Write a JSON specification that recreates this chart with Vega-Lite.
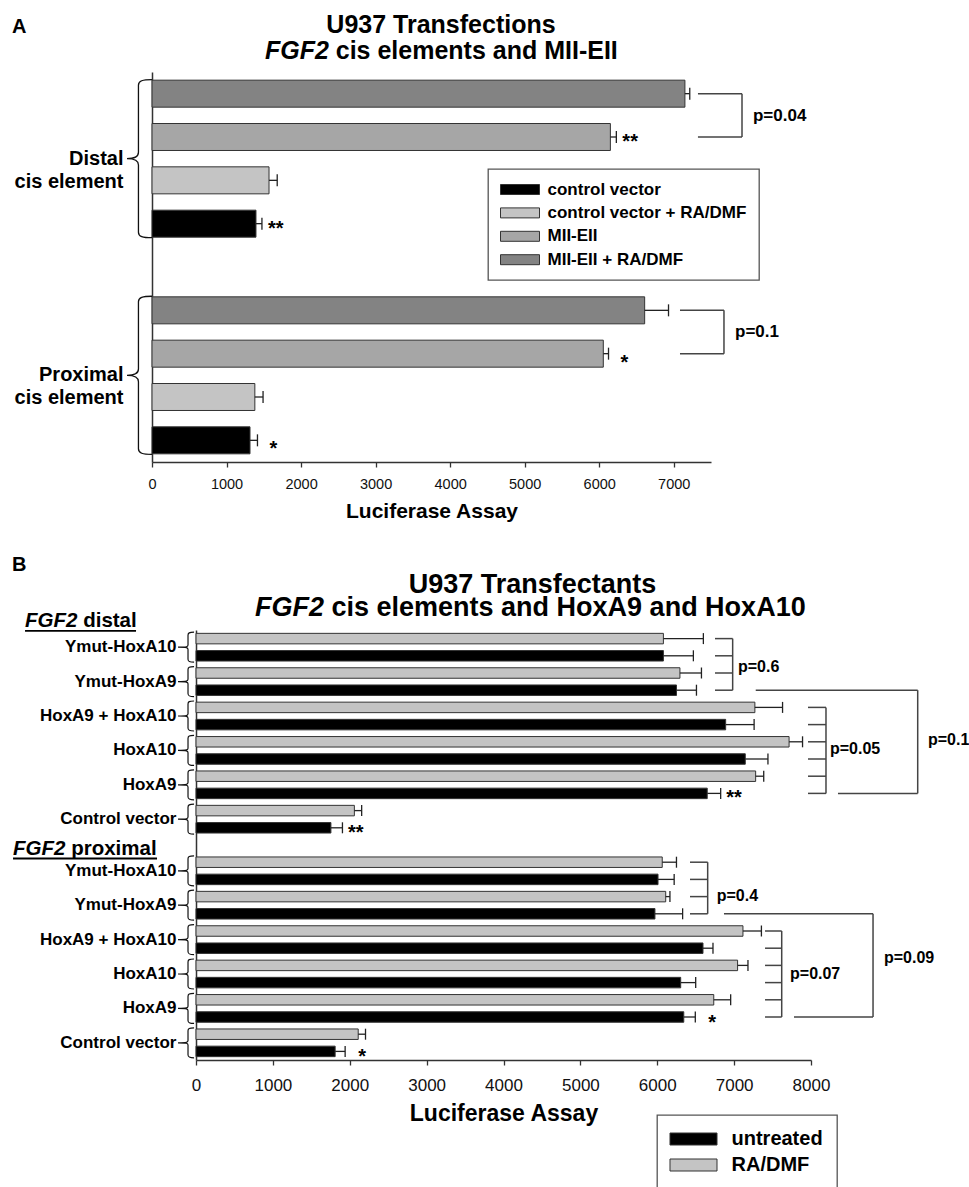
{
  "$schema": "https://vega.github.io/schema/vega-lite/v6.json",
  "width": 969,
  "height": 1187,
  "autosize": {"type": "none"},
  "padding": 0,
  "background": "#ffffff",
  "config": {
    "view": {"stroke": null},
    "font": "Liberation Sans",
    "text": {"font": "Liberation Sans", "color": "#000000"},
    "axis": {"grid": false, "domainColor": "#333333", "tickColor": "#333333", "labelColor": "#111111", "titleColor": "#000000", "labelFont": "Liberation Sans", "titleFont": "Liberation Sans", "domainWidth": 1.5, "tickWidth": 1.3},
    "legend": {"strokeColor": "#555555", "strokeWidth": 1.3, "padding": 12, "fillColor": "#ffffff", "labelFont": "Liberation Sans", "labelFontWeight": "bold", "labelColor": "#000000", "labelLimit": 400, "symbolStrokeColor": "#333333", "symbolStrokeWidth": 1}
  },
  "datasets": {
    "panelA": [
      {"element": "Distal", "construct": "MII-EII + RA/DMF", "mean": 7150, "hi": 7215, "sig": ""},
      {"element": "Distal", "construct": "MII-EII", "mean": 6150, "hi": 6230, "sig": "**"},
      {"element": "Distal", "construct": "control vector + RA/DMF", "mean": 1570, "hi": 1680, "sig": ""},
      {"element": "Distal", "construct": "control vector", "mean": 1395, "hi": 1475, "sig": "**"},
      {"element": "Proximal", "construct": "MII-EII + RA/DMF", "mean": 6610, "hi": 6930, "sig": ""},
      {"element": "Proximal", "construct": "MII-EII", "mean": 6055, "hi": 6125, "sig": "*"},
      {"element": "Proximal", "construct": "control vector + RA/DMF", "mean": 1380, "hi": 1490, "sig": ""},
      {"element": "Proximal", "construct": "control vector", "mean": 1315, "hi": 1415, "sig": "*"}
    ],
    "panelB": [
      {"section": "distal", "construct": "Ymut-HoxA10", "treatment": "RA/DMF", "mean": 6080, "hi": 6600, "sig": ""},
      {"section": "distal", "construct": "Ymut-HoxA10", "treatment": "untreated", "mean": 6080, "hi": 6470, "sig": ""},
      {"section": "distal", "construct": "Ymut-HoxA9", "treatment": "RA/DMF", "mean": 6295, "hi": 6575, "sig": ""},
      {"section": "distal", "construct": "Ymut-HoxA9", "treatment": "untreated", "mean": 6250, "hi": 6510, "sig": ""},
      {"section": "distal", "construct": "HoxA9 + HoxA10", "treatment": "RA/DMF", "mean": 7270, "hi": 7630, "sig": ""},
      {"section": "distal", "construct": "HoxA9 + HoxA10", "treatment": "untreated", "mean": 6890, "hi": 7260, "sig": ""},
      {"section": "distal", "construct": "HoxA10", "treatment": "RA/DMF", "mean": 7715, "hi": 7890, "sig": ""},
      {"section": "distal", "construct": "HoxA10", "treatment": "untreated", "mean": 7145, "hi": 7440, "sig": ""},
      {"section": "distal", "construct": "HoxA9", "treatment": "RA/DMF", "mean": 7280, "hi": 7385, "sig": ""},
      {"section": "distal", "construct": "HoxA9", "treatment": "untreated", "mean": 6650, "hi": 6825, "sig": "**"},
      {"section": "distal", "construct": "Control vector", "treatment": "RA/DMF", "mean": 2060, "hi": 2155, "sig": ""},
      {"section": "distal", "construct": "Control vector", "treatment": "untreated", "mean": 1755, "hi": 1905, "sig": "**"},
      {"section": "proximal", "construct": "Ymut-HoxA10", "treatment": "RA/DMF", "mean": 6065, "hi": 6250, "sig": ""},
      {"section": "proximal", "construct": "Ymut-HoxA10", "treatment": "untreated", "mean": 6010, "hi": 6220, "sig": ""},
      {"section": "proximal", "construct": "Ymut-HoxA9", "treatment": "RA/DMF", "mean": 6110, "hi": 6165, "sig": ""},
      {"section": "proximal", "construct": "Ymut-HoxA9", "treatment": "untreated", "mean": 5970, "hi": 6330, "sig": ""},
      {"section": "proximal", "construct": "HoxA9 + HoxA10", "treatment": "RA/DMF", "mean": 7115, "hi": 7355, "sig": ""},
      {"section": "proximal", "construct": "HoxA9 + HoxA10", "treatment": "untreated", "mean": 6595, "hi": 6725, "sig": ""},
      {"section": "proximal", "construct": "HoxA10", "treatment": "RA/DMF", "mean": 7045, "hi": 7180, "sig": ""},
      {"section": "proximal", "construct": "HoxA10", "treatment": "untreated", "mean": 6305, "hi": 6500, "sig": ""},
      {"section": "proximal", "construct": "HoxA9", "treatment": "RA/DMF", "mean": 6735, "hi": 6955, "sig": ""},
      {"section": "proximal", "construct": "HoxA9", "treatment": "untreated", "mean": 6345, "hi": 6495, "sig": "*"},
      {"section": "proximal", "construct": "Control vector", "treatment": "RA/DMF", "mean": 2110, "hi": 2205, "sig": ""},
      {"section": "proximal", "construct": "Control vector", "treatment": "untreated", "mean": 1810, "hi": 1940, "sig": "*"}
    ]
  },
  "resolve": {"scale": {"x": "independent", "y": "independent", "fill": "independent"}},
  "layer": [
    {
      "data": {"name": "panelA"},
      "transform": [{"calculate": "datum.element + '|' + datum.construct", "as": "bar"}],
      "layer": [
        {
          "mark": {"type": "bar", "stroke": "#333333", "strokeWidth": 1, "opacity": 1},
          "encoding": {
            "x": {
              "field": "mean", "type": "quantitative",
              "scale": {"domain": [0, 7500], "range": [152, 711], "nice": false, "zero": false},
              "axis": {"orient": "bottom", "offset": -725, "values": [0, 1000, 2000, 3000, 4000, 5000, 6000, 7000], "format": "d", "title": "Luciferase Assay", "titleFontSize": 21, "titleFontWeight": "bold", "titlePadding": 10, "labelFontSize": 14.5, "labelPadding": 10, "labelFlush": false, "labelOverlap": false, "tickSize": 5}
            },
            "y": {
              "field": "bar", "type": "nominal",
              "scale": {"type": "band", "domain": ["Distal|MII-EII + RA/DMF", "Distal|MII-EII", "Distal|control vector + RA/DMF", "Distal|control vector", "gap", "Proximal|MII-EII + RA/DMF", "Proximal|MII-EII", "Proximal|control vector + RA/DMF", "Proximal|control vector"], "range": [72, 462], "paddingInner": 0.377, "paddingOuter": 0.1885},
              "axis": {"orient": "left", "offset": -152, "title": null, "ticks": false, "tickSize": 0, "labelPadding": 29, "labelOffset": -21.67, "labelFontSize": 20, "labelFontWeight": "bold", "labelColor": "#000000", "labelLineHeight": 23, "labelLimit": 300, "labelExpr": "datum.value === 'Distal|control vector + RA/DMF' ? ['Distal', 'cis element'] : datum.value === 'Proximal|control vector + RA/DMF' ? ['Proximal', 'cis element'] : ''"}
            },
            "fill": {
              "field": "construct", "type": "nominal",
              "scale": {"domain": ["control vector", "control vector + RA/DMF", "MII-EII", "MII-EII + RA/DMF"], "range": ["#000000", "#c4c4c4", "#a6a6a6", "#838383"]},
              "legend": {"orient": "none", "legendX": 488, "legendY": 169, "title": null, "direction": "vertical", "symbolType": "M-3.9,-1H3.9V1H-3.9Z", "symbolSize": 100, "symbolOffset": 11.5, "labelOffset": 19, "labelFontSize": 17, "rowPadding": 5.4}
            }
          }
        },
        {
          "mark": {"type": "rule", "color": "#222222", "strokeWidth": 1.3},
          "encoding": {
            "x": {"field": "mean", "type": "quantitative"},
            "x2": {"field": "hi"},
            "y": {"field": "bar", "type": "nominal"}
          }
        },
        {
          "mark": {"type": "tick", "orient": "vertical", "size": 12, "thickness": 1.3, "color": "#222222", "opacity": 1},
          "encoding": {
            "x": {"field": "hi", "type": "quantitative"},
            "y": {"field": "bar", "type": "nominal"}
          }
        },
        {
          "transform": [{"filter": "datum.sig === '**'"}],
          "mark": {"type": "text", "align": "left", "baseline": "alphabetic", "dx": 6, "dy": 11, "fontSize": 20, "fontWeight": "bold"},
          "encoding": {
            "x": {"field": "hi", "type": "quantitative"},
            "y": {"field": "bar", "type": "nominal"},
            "text": {"field": "sig"}
          }
        },
        {
          "transform": [{"filter": "datum.sig === '*'"}],
          "mark": {"type": "text", "align": "left", "baseline": "alphabetic", "dx": 12, "dy": 15, "fontSize": 20, "fontWeight": "bold"},
          "encoding": {
            "x": {"field": "hi", "type": "quantitative"},
            "y": {"field": "bar", "type": "nominal"},
            "text": {"field": "sig"}
          }
        },
        {
          "transform": [{"filter": "datum.construct === 'control vector + RA/DMF'"}],
          "mark": {"type": "point", "shape": "M0.158,-1C0.04,-1 -0.013,-0.985 -0.013,-0.93L-0.013,-0.08C-0.013,-0.025 -0.06,0 -0.158,0C-0.06,0 -0.013,0.025 -0.013,0.08L-0.013,0.93C-0.013,0.985 0.04,1 0.158,1", "size": 25000, "filled": false, "stroke": "#111111", "strokeWidth": 1.3, "opacity": 1, "yOffset": -21.67},
          "encoding": {
            "x": {"datum": -168, "type": "quantitative"},
            "y": {"field": "bar", "type": "nominal"}
          }
        },
        {
          "transform": [{"filter": "datum.element === 'Distal' && indexof(datum.construct, 'MII-EII') === 0"}],
          "mark": {"type": "rule", "color": "#444444", "strokeWidth": 1.5},
          "encoding": {
            "x": {"datum": 7325, "type": "quantitative"},
            "x2": {"datum": 7916},
            "y": {"field": "bar", "type": "nominal"}
          }
        },
        {
          "transform": [{"filter": "datum.element === 'Proximal' && indexof(datum.construct, 'MII-EII') === 0"}],
          "mark": {"type": "rule", "color": "#444444", "strokeWidth": 1.5},
          "encoding": {
            "x": {"datum": 7084, "type": "quantitative"},
            "x2": {"datum": 7674},
            "y": {"field": "bar", "type": "nominal"}
          }
        },
        {
          "data": {"values": [{}]},
          "mark": {"type": "rule", "color": "#444444", "strokeWidth": 1.5},
          "encoding": {
            "x": {"datum": 7916, "type": "quantitative"},
            "y": {"datum": "Distal|MII-EII + RA/DMF", "type": "nominal"},
            "y2": {"datum": "Distal|MII-EII"}
          }
        },
        {
          "data": {"values": [{}]},
          "mark": {"type": "rule", "color": "#444444", "strokeWidth": 1.5},
          "encoding": {
            "x": {"datum": 7674, "type": "quantitative"},
            "y": {"datum": "Proximal|MII-EII + RA/DMF", "type": "nominal"},
            "y2": {"datum": "Proximal|MII-EII"}
          }
        },
        {
          "data": {"values": [{}]},
          "mark": {"type": "text", "align": "left", "baseline": "middle", "fontSize": 17, "fontWeight": "bold", "dy": -21.5},
          "encoding": {
            "x": {"datum": 8063, "type": "quantitative"},
            "y": {"datum": "Distal|MII-EII", "type": "nominal"},
            "text": {"value": "p=0.04"}
          }
        },
        {
          "data": {"values": [{}]},
          "mark": {"type": "text", "align": "left", "baseline": "middle", "fontSize": 17, "fontWeight": "bold", "dy": -21.5},
          "encoding": {
            "x": {"datum": 7822, "type": "quantitative"},
            "y": {"datum": "Proximal|MII-EII", "type": "nominal"},
            "text": {"value": "p=0.1"}
          }
        },
        {
          "data": {"values": [{}]},
          "mark": {"type": "text", "align": "left", "baseline": "alphabetic", "fontSize": 20, "fontWeight": "bold", "dy": -60.5},
          "encoding": {
            "x": {"datum": -1878, "type": "quantitative"},
            "y": {"datum": "Distal|MII-EII + RA/DMF", "type": "nominal"},
            "text": {"value": "A"}
          }
        },
        {
          "data": {"values": [{}]},
          "mark": {"type": "text", "align": "center", "baseline": "alphabetic", "fontSize": 25, "fontWeight": "bold", "dy": -60.5},
          "encoding": {
            "x": {"datum": 3877, "type": "quantitative"},
            "y": {"datum": "Distal|MII-EII + RA/DMF", "type": "nominal"},
            "text": {"value": "U937 Transfections"}
          }
        },
        {
          "data": {"values": [{}]},
          "mark": {"type": "text", "align": "right", "baseline": "alphabetic", "fontSize": 25, "fontWeight": "bold", "fontStyle": "italic", "dy": -35},
          "encoding": {
            "x": {"datum": 2373, "type": "quantitative"},
            "y": {"datum": "Distal|MII-EII + RA/DMF", "type": "nominal"},
            "text": {"value": "FGF2"}
          }
        },
        {
          "data": {"values": [{}]},
          "mark": {"type": "text", "align": "left", "baseline": "alphabetic", "fontSize": 25, "fontWeight": "bold", "dx": 6.9, "dy": -35},
          "encoding": {
            "x": {"datum": 2373, "type": "quantitative"},
            "y": {"datum": "Distal|MII-EII + RA/DMF", "type": "nominal"},
            "text": {"value": "cis elements and MII-EII"}
          }
        }
      ]
    },
    {
      "data": {"name": "panelB"},
      "transform": [{"calculate": "datum.section + '|' + datum.construct + '|' + datum.treatment", "as": "bar"}],
      "layer": [
        {
          "mark": {"type": "bar", "stroke": "#333333", "strokeWidth": 1, "opacity": 1},
          "encoding": {
            "x": {
              "field": "mean", "type": "quantitative",
              "scale": {"domain": [0, 8000], "range": [196, 811], "nice": false, "zero": false},
              "axis": {"orient": "bottom", "offset": -127, "values": [0, 1000, 2000, 3000, 4000, 5000, 6000, 7000, 8000], "format": "d", "title": "Luciferase Assay", "titleFontSize": 23, "titleFontWeight": "bold", "titlePadding": 9, "labelFontSize": 17, "labelPadding": 12, "labelFlush": false, "labelOverlap": false, "tickSize": 5}
            },
            "y": {
              "field": "bar", "type": "nominal",
              "scale": {"type": "band", "domain": ["distal|Ymut-HoxA10|RA/DMF", "distal|Ymut-HoxA10|untreated", "distal|Ymut-HoxA9|RA/DMF", "distal|Ymut-HoxA9|untreated", "distal|HoxA9 + HoxA10|RA/DMF", "distal|HoxA9 + HoxA10|untreated", "distal|HoxA10|RA/DMF", "distal|HoxA10|untreated", "distal|HoxA9|RA/DMF", "distal|HoxA9|untreated", "distal|Control vector|RA/DMF", "distal|Control vector|untreated", "gap", "proximal|Ymut-HoxA10|RA/DMF", "proximal|Ymut-HoxA10|untreated", "proximal|Ymut-HoxA9|RA/DMF", "proximal|Ymut-HoxA9|untreated", "proximal|HoxA9 + HoxA10|RA/DMF", "proximal|HoxA9 + HoxA10|untreated", "proximal|HoxA10|RA/DMF", "proximal|HoxA10|untreated", "proximal|HoxA9|RA/DMF", "proximal|HoxA9|untreated", "proximal|Control vector|RA/DMF", "proximal|Control vector|untreated"], "range": [630, 1060], "paddingInner": 0.39, "paddingOuter": 0.195},
              "axis": {"orient": "left", "offset": -196, "title": null, "ticks": false, "tickSize": 0, "labelPadding": 20, "labelOffset": -8.6, "labelFontSize": 17, "labelFontWeight": "bold", "labelColor": "#000000", "labelLimit": 300, "labelExpr": "split(datum.value, '|')[2] === 'untreated' ? split(datum.value, '|')[1] : ''"}
            },
            "fill": {
              "field": "treatment", "type": "nominal",
              "scale": {"domain": ["untreated", "RA/DMF"], "range": ["#000000", "#c4c4c4"]},
              "legend": {"orient": "none", "legendX": 657, "legendY": 1115, "title": null, "direction": "vertical", "padding": 14, "symbolType": "M-3.917,-1H3.917V1H-3.917Z", "symbolSize": 144, "symbolOffset": 12.5, "labelOffset": 28, "labelFontSize": 20, "rowPadding": 6}
            }
          }
        },
        {
          "mark": {"type": "rule", "color": "#222222", "strokeWidth": 1.3},
          "encoding": {
            "x": {"field": "mean", "type": "quantitative"},
            "x2": {"field": "hi"},
            "y": {"field": "bar", "type": "nominal"}
          }
        },
        {
          "mark": {"type": "tick", "orient": "vertical", "size": 11, "thickness": 1.3, "color": "#222222", "opacity": 1},
          "encoding": {
            "x": {"field": "hi", "type": "quantitative"},
            "y": {"field": "bar", "type": "nominal"}
          }
        },
        {
          "transform": [{"filter": "datum.sig === '**'"}],
          "mark": {"type": "text", "align": "left", "baseline": "alphabetic", "dx": 5.5, "dy": 11, "fontSize": 20, "fontWeight": "bold"},
          "encoding": {
            "x": {"field": "hi", "type": "quantitative"},
            "y": {"field": "bar", "type": "nominal"},
            "text": {"field": "sig"}
          }
        },
        {
          "transform": [{"filter": "datum.sig === '*'"}],
          "mark": {"type": "text", "align": "left", "baseline": "alphabetic", "dx": 13, "dy": 12, "fontSize": 20, "fontWeight": "bold"},
          "encoding": {
            "x": {"field": "hi", "type": "quantitative"},
            "y": {"field": "bar", "type": "nominal"},
            "text": {"field": "sig"}
          }
        },
        {
          "transform": [{"filter": "datum.treatment === 'untreated'"}],
          "mark": {"type": "point", "shape": "M0.47,-1C0.15,-1 0.067,-0.95 0.067,-0.8L0.067,-0.15C0.067,-0.03 0,0 -0.6,0C0,0 0.067,0.03 0.067,0.15L0.067,0.8C0.067,0.95 0.15,1 0.47,1", "size": 900, "filled": false, "stroke": "#111111", "strokeWidth": 1.2, "opacity": 1, "yOffset": -8.6},
          "encoding": {
            "x": {"datum": -117, "type": "quantitative"},
            "y": {"field": "bar", "type": "nominal"}
          }
        },
        {
          "transform": [{"filter": "datum.section === 'distal' && indexof(datum.construct, 'Ymut') === 0"}],
          "mark": {"type": "rule", "color": "#444444", "strokeWidth": 1.5},
          "encoding": {
            "x": {"datum": 6751, "type": "quantitative"},
            "x2": {"datum": 6981},
            "y": {"field": "bar", "type": "nominal"}
          }
        },
        {
          "transform": [{"filter": "datum.section === 'distal' && indexof(datum.construct, 'Hox') === 0"}],
          "mark": {"type": "rule", "color": "#444444", "strokeWidth": 1.5},
          "encoding": {
            "x": {"datum": 7961, "type": "quantitative"},
            "x2": {"datum": 8195},
            "y": {"field": "bar", "type": "nominal"}
          }
        },
        {
          "transform": [{"filter": "datum.section === 'proximal' && indexof(datum.construct, 'Ymut') === 0"}],
          "mark": {"type": "rule", "color": "#444444", "strokeWidth": 1.5},
          "encoding": {
            "x": {"datum": 6426, "type": "quantitative"},
            "x2": {"datum": 6656},
            "y": {"field": "bar", "type": "nominal"}
          }
        },
        {
          "transform": [{"filter": "datum.section === 'proximal' && indexof(datum.construct, 'Hox') === 0"}],
          "mark": {"type": "rule", "color": "#444444", "strokeWidth": 1.5},
          "encoding": {
            "x": {"datum": 7402, "type": "quantitative"},
            "x2": {"datum": 7619},
            "y": {"field": "bar", "type": "nominal"}
          }
        },
        {
          "transform": [{"filter": "datum.section === 'distal' && datum.construct === 'Ymut-HoxA9' && datum.treatment === 'untreated'"}],
          "mark": {"type": "rule", "color": "#444444", "strokeWidth": 1.5},
          "encoding": {
            "x": {"datum": 7281, "type": "quantitative"},
            "x2": {"datum": 9388},
            "y": {"field": "bar", "type": "nominal"}
          }
        },
        {
          "transform": [{"filter": "datum.section === 'distal' && datum.construct === 'HoxA9' && datum.treatment === 'untreated'"}],
          "mark": {"type": "rule", "color": "#444444", "strokeWidth": 1.5},
          "encoding": {
            "x": {"datum": 8351, "type": "quantitative"},
            "x2": {"datum": 9388},
            "y": {"field": "bar", "type": "nominal"}
          }
        },
        {
          "transform": [{"filter": "datum.section === 'proximal' && datum.construct === 'Ymut-HoxA9' && datum.treatment === 'untreated'"}],
          "mark": {"type": "rule", "color": "#444444", "strokeWidth": 1.5},
          "encoding": {
            "x": {"datum": 6868, "type": "quantitative"},
            "x2": {"datum": 8807},
            "y": {"field": "bar", "type": "nominal"}
          }
        },
        {
          "transform": [{"filter": "datum.section === 'proximal' && datum.construct === 'HoxA9' && datum.treatment === 'untreated'"}],
          "mark": {"type": "rule", "color": "#444444", "strokeWidth": 1.5},
          "encoding": {
            "x": {"datum": 7779, "type": "quantitative"},
            "x2": {"datum": 8807},
            "y": {"field": "bar", "type": "nominal"}
          }
        },
        {
          "data": {"values": [{}]},
          "mark": {"type": "rule", "color": "#444444", "strokeWidth": 1.5},
          "encoding": {
            "x": {"datum": 6981, "type": "quantitative"},
            "y": {"datum": "distal|Ymut-HoxA10|RA/DMF", "type": "nominal"},
            "y2": {"datum": "distal|Ymut-HoxA9|untreated"}
          }
        },
        {
          "data": {"values": [{}]},
          "mark": {"type": "rule", "color": "#444444", "strokeWidth": 1.5},
          "encoding": {
            "x": {"datum": 8195, "type": "quantitative"},
            "y": {"datum": "distal|HoxA9 + HoxA10|RA/DMF", "type": "nominal"},
            "y2": {"datum": "distal|HoxA9|untreated"}
          }
        },
        {
          "data": {"values": [{}]},
          "mark": {"type": "rule", "color": "#444444", "strokeWidth": 1.5},
          "encoding": {
            "x": {"datum": 9388, "type": "quantitative"},
            "y": {"datum": "distal|Ymut-HoxA9|untreated", "type": "nominal"},
            "y2": {"datum": "distal|HoxA9|untreated"}
          }
        },
        {
          "data": {"values": [{}]},
          "mark": {"type": "rule", "color": "#444444", "strokeWidth": 1.5},
          "encoding": {
            "x": {"datum": 6656, "type": "quantitative"},
            "y": {"datum": "proximal|Ymut-HoxA10|RA/DMF", "type": "nominal"},
            "y2": {"datum": "proximal|Ymut-HoxA9|untreated"}
          }
        },
        {
          "data": {"values": [{}]},
          "mark": {"type": "rule", "color": "#444444", "strokeWidth": 1.5},
          "encoding": {
            "x": {"datum": 7619, "type": "quantitative"},
            "y": {"datum": "proximal|HoxA9 + HoxA10|RA/DMF", "type": "nominal"},
            "y2": {"datum": "proximal|HoxA9|untreated"}
          }
        },
        {
          "data": {"values": [{}]},
          "mark": {"type": "rule", "color": "#444444", "strokeWidth": 1.5},
          "encoding": {
            "x": {"datum": 8807, "type": "quantitative"},
            "y": {"datum": "proximal|Ymut-HoxA9|untreated", "type": "nominal"},
            "y2": {"datum": "proximal|HoxA9|untreated"}
          }
        },
        {
          "data": {"values": [{}]},
          "mark": {"type": "text", "align": "left", "baseline": "middle", "fontSize": 16, "fontWeight": "bold", "dy": -6.3},
          "encoding": {
            "x": {"datum": 7050, "type": "quantitative"},
            "y": {"datum": "distal|Ymut-HoxA9|RA/DMF", "type": "nominal"},
            "text": {"value": "p=0.6"}
          }
        },
        {
          "data": {"values": [{}]},
          "mark": {"type": "text", "align": "left", "baseline": "middle", "fontSize": 16, "fontWeight": "bold", "dy": -10},
          "encoding": {
            "x": {"datum": 8247, "type": "quantitative"},
            "y": {"datum": "distal|HoxA10|untreated", "type": "nominal"},
            "text": {"value": "p=0.05"}
          }
        },
        {
          "data": {"values": [{}]},
          "mark": {"type": "text", "align": "left", "baseline": "middle", "fontSize": 16, "fontWeight": "bold", "dy": -2},
          "encoding": {
            "x": {"datum": 9522, "type": "quantitative"},
            "y": {"datum": "distal|HoxA10|RA/DMF", "type": "nominal"},
            "text": {"value": "p=0.1"}
          }
        },
        {
          "data": {"values": [{}]},
          "mark": {"type": "text", "align": "left", "baseline": "middle", "fontSize": 16, "fontWeight": "bold", "dy": -1},
          "encoding": {
            "x": {"datum": 6773, "type": "quantitative"},
            "y": {"datum": "proximal|Ymut-HoxA9|RA/DMF", "type": "nominal"},
            "text": {"value": "p=0.4"}
          }
        },
        {
          "data": {"values": [{}]},
          "mark": {"type": "text", "align": "left", "baseline": "middle", "fontSize": 16, "fontWeight": "bold", "dy": -8.7},
          "encoding": {
            "x": {"datum": 7727, "type": "quantitative"},
            "y": {"datum": "proximal|HoxA10|untreated", "type": "nominal"},
            "text": {"value": "p=0.07"}
          }
        },
        {
          "data": {"values": [{}]},
          "mark": {"type": "text", "align": "left", "baseline": "middle", "fontSize": 16, "fontWeight": "bold", "dy": -7.5},
          "encoding": {
            "x": {"datum": 8949, "type": "quantitative"},
            "y": {"datum": "proximal|HoxA10|RA/DMF", "type": "nominal"},
            "text": {"value": "p=0.09"}
          }
        },
        {
          "data": {"values": [{}]},
          "mark": {"type": "text", "align": "left", "baseline": "alphabetic", "fontSize": 20.5, "fontWeight": "bold", "fontStyle": "italic", "dy": -11.7},
          "encoding": {
            "x": {"datum": -2224, "type": "quantitative"},
            "y": {"datum": "distal|Ymut-HoxA10|RA/DMF", "type": "nominal"},
            "text": {"value": "FGF2"}
          }
        },
        {
          "data": {"values": [{}]},
          "mark": {"type": "text", "align": "left", "baseline": "alphabetic", "fontSize": 20.5, "fontWeight": "bold", "dx": 5.7, "dy": -11.7},
          "encoding": {
            "x": {"datum": -1542, "type": "quantitative"},
            "y": {"datum": "distal|Ymut-HoxA10|RA/DMF", "type": "nominal"},
            "text": {"value": "distal"}
          }
        },
        {
          "data": {"values": [{}]},
          "mark": {"type": "rule", "color": "#000000", "strokeWidth": 1.8, "yOffset": -7.7},
          "encoding": {
            "x": {"datum": -2224, "type": "quantitative"},
            "x2": {"datum": -780},
            "y": {"datum": "distal|Ymut-HoxA10|RA/DMF", "type": "nominal"}
          }
        },
        {
          "data": {"values": [{}]},
          "mark": {"type": "text", "align": "left", "baseline": "alphabetic", "fontSize": 20.5, "fontWeight": "bold", "fontStyle": "italic", "dy": 10},
          "encoding": {
            "x": {"datum": -2380, "type": "quantitative"},
            "y": {"datum": "gap", "type": "nominal"},
            "text": {"value": "FGF2"}
          }
        },
        {
          "data": {"values": [{}]},
          "mark": {"type": "text", "align": "left", "baseline": "alphabetic", "fontSize": 20.5, "fontWeight": "bold", "dx": 5.7, "dy": 10},
          "encoding": {
            "x": {"datum": -1698, "type": "quantitative"},
            "y": {"datum": "gap", "type": "nominal"},
            "text": {"value": "proximal"}
          }
        },
        {
          "data": {"values": [{}]},
          "mark": {"type": "rule", "color": "#000000", "strokeWidth": 1.8, "yOffset": 13.5},
          "encoding": {
            "x": {"datum": -2380, "type": "quantitative"},
            "x2": {"datum": -507},
            "y": {"datum": "gap", "type": "nominal"}
          }
        },
        {
          "data": {"values": [{}]},
          "mark": {"type": "text", "align": "left", "baseline": "alphabetic", "fontSize": 20, "fontWeight": "bold", "dy": -67.7},
          "encoding": {
            "x": {"datum": -2393, "type": "quantitative"},
            "y": {"datum": "distal|Ymut-HoxA10|RA/DMF", "type": "nominal"},
            "text": {"value": "B"}
          }
        },
        {
          "data": {"values": [{}]},
          "mark": {"type": "text", "align": "center", "baseline": "alphabetic", "fontSize": 27, "fontWeight": "bold", "dy": -45.5},
          "encoding": {
            "x": {"datum": 4377, "type": "quantitative"},
            "y": {"datum": "distal|Ymut-HoxA10|RA/DMF", "type": "nominal"},
            "text": {"value": "U937 Transfectants"}
          }
        },
        {
          "data": {"values": [{}]},
          "mark": {"type": "text", "align": "right", "baseline": "alphabetic", "fontSize": 27, "fontWeight": "bold", "fontStyle": "italic", "dy": -22.7},
          "encoding": {
            "x": {"datum": 1665, "type": "quantitative"},
            "y": {"datum": "distal|Ymut-HoxA10|RA/DMF", "type": "nominal"},
            "text": {"value": "FGF2"}
          }
        },
        {
          "data": {"values": [{}]},
          "mark": {"type": "text", "align": "left", "baseline": "alphabetic", "fontSize": 27, "fontWeight": "bold", "dx": 7.5, "dy": -22.7},
          "encoding": {
            "x": {"datum": 1665, "type": "quantitative"},
            "y": {"datum": "distal|Ymut-HoxA10|RA/DMF", "type": "nominal"},
            "text": {"value": "cis elements and HoxA9 and HoxA10"}
          }
        }
      ]
    }
  ]
}
